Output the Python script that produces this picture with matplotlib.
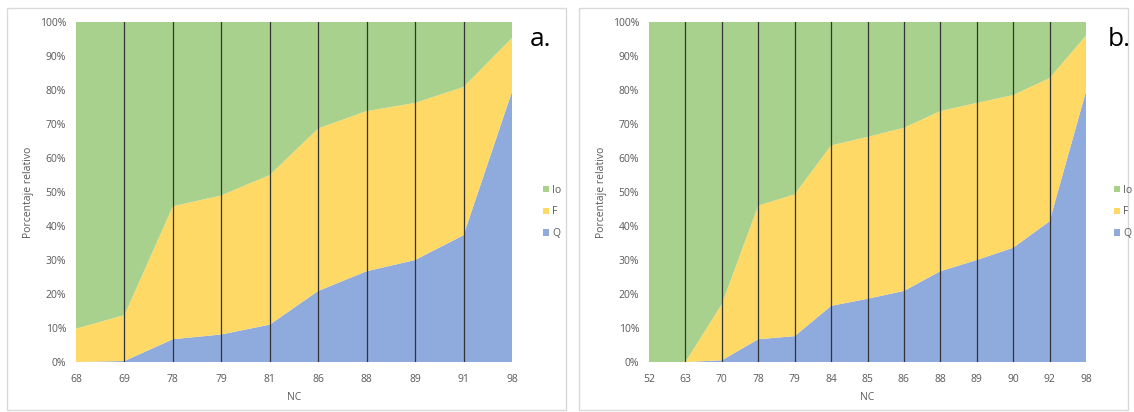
import matplotlib
matplotlib.use("Agg")
import matplotlib.pyplot as plt
from matplotlib.patches import Patch, Rectangle
from matplotlib.ticker import FuncFormatter

# ---- data (percent) ----
cats_a = ["68", "69", "78", "79", "81", "86", "88", "89", "91", "98"]
q_a = [0, 0.3, 6.7, 8.1, 11.0, 20.9, 26.7, 30.0, 37.3, 79.5]
f_a = [9.8, 13.5, 39.1, 40.9, 44.0, 47.8, 47.1, 46.2, 43.6, 15.8]
io_a = [90.2, 86.2, 54.2, 51.0, 45.0, 31.3, 26.2, 23.8, 19.1, 4.7]

cats_b = ["52", "63", "70", "78", "79", "84", "85", "86", "88", "89", "90", "92", "98"]
q_b = [0, 0, 0.5, 6.7, 7.6, 16.5, 18.6, 20.9, 26.7, 30.0, 33.6, 41.4, 79.6]
f_b = [0, 0, 16.5, 39.3, 41.7, 47.2, 47.6, 48.0, 47.1, 46.2, 44.9, 42.1, 16.4]
io_b = [100, 100, 83.0, 54.0, 50.7, 36.3, 33.8, 31.1, 26.2, 23.8, 21.5, 16.5, 4.0]

series_names = ["Q", "F", "Io"]
colors = {"Q": "#8FAADC", "F": "#FFD966", "Io": "#A9D18E"}

plt.rcParams['font.family'] = ['Open Sans', 'DejaVu Sans']

fig = plt.figure(figsize=(11.34, 4.12), dpi=100)

# panel borders
for x0, x1 in [(7, 566), (579, 1128)]:
    fig.patches.append(Rectangle((x0 / 1134, 2 / 412), (x1 - x0) / 1134, 402 / 412,
                                 transform=fig.transFigure, fill=False,
                                 edgecolor="#d9d9d9", linewidth=1.0))

H = 412.0
W = 1134.0
panels = [
    (cats_a, q_a, f_a, io_a, 76, 512, "a.", 530, 540),
    (cats_b, q_b, f_b, io_b, 649, 1086, "b.", 1108, 1111),
]

for cats, q, f, io, xl, xr, letter, lx, legx in panels:
    ax = fig.add_axes([xl / W, (H - 362) / H, (xr - xl) / W, 340 / H])
    x = list(range(len(cats)))
    ax.stackplot(x, q, f, io, colors=[colors["Q"], colors["F"], colors["Io"]],
                 linewidth=0)
    for xi in x[1:-1]:
        ax.axvline(xi, color="#333333", linewidth=0.9, zorder=3)
    ax.set_xlim(0, len(cats) - 1)
    ax.set_ylim(0, 100)
    ax.set_xticks(x)
    ax.set_xticklabels(cats)
    ax.set_yticks(range(0, 101, 10))
    ax.yaxis.set_major_formatter(FuncFormatter(lambda v, p: f"{int(v)}%"))
    ax.tick_params(axis="x", length=0, labelsize=7.5, colors="#595959", pad=9)
    ax.tick_params(axis="y", length=0, labelsize=7.5, colors="#595959", pad=7)
    for s in ax.spines.values():
        s.set_visible(False)
    ax.set_xlabel("NC", fontsize=7.5, color="#595959", labelpad=5)
    ax.set_ylabel("Porcentaje relativo", fontsize=7.5, color="#595959", labelpad=4)
    fig.text(lx / W, (H - 40) / H, letter, fontsize=19, color="black",
             ha="left", va="center")
    handles = [Patch(facecolor=colors[n], edgecolor="none") for n in ["Io", "F", "Q"]]
    fig.legend(handles, ["Io", "F", "Q"], loc="center left",
               bbox_to_anchor=(legx / W - 0.006, (H - 212) / H),
               bbox_transform=fig.transFigure, frameon=False, fontsize=7.5,
               handlelength=0.6, handleheight=0.6, handletextpad=0.3,
               labelspacing=1.05, labelcolor="#595959")

fig.savefig("out.png", dpi=100)
